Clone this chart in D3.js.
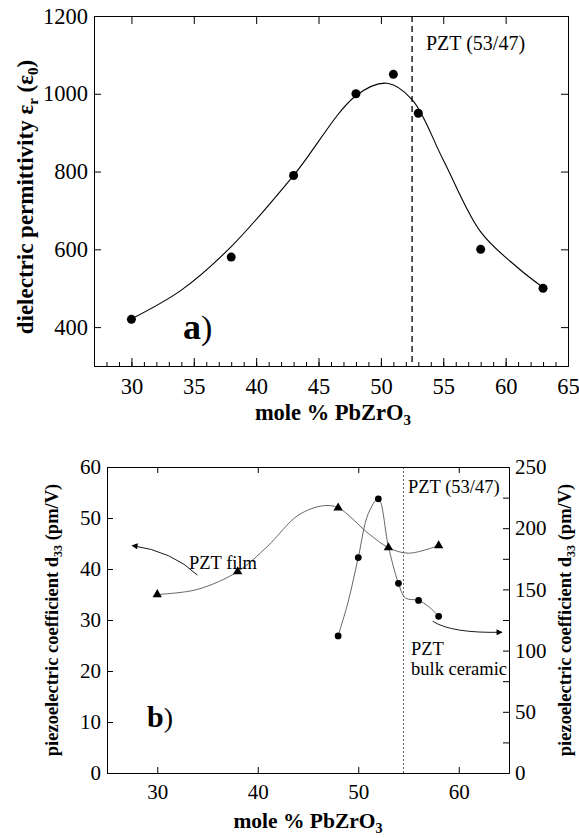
<!DOCTYPE html>
<html>
<head>
<meta charset="utf-8">
<script src="https://cdn.jsdelivr.net/npm/d3@7"></script>
<style>
  body { margin: 0; background: #fff; }
  svg text { font-family: "Liberation Serif", "Times New Roman", serif !important; fill: #000; }
</style>
</head>
<body>
<script>
// ---- panel a) dielectric permittivity ----
var permX = [30, 38, 43, 48, 51, 53, 58, 63];
var permY = [420, 580, 790, 1000, 1050, 950, 600, 500];
// fitted curve
var permFitX = [30, 34, 38, 43, 48, 50.5, 52.5, 55, 58, 61, 63];
var permFitY = [421, 495, 607, 790, 995, 1027, 985, 830, 645, 552, 502];
var permXTicks = [30, 35, 40, 45, 50, 55, 60, 65];
var permYTicks = [400, 600, 800, 1000, 1200];
var permMph = 52.5;

// ---- panel b) piezoelectric coefficient ----
var filmX = [30, 38, 48, 53, 58];
var filmY = [35, 39.5, 52, 44.2, 44.6];
var filmFitX = [30, 34, 38, 41, 44, 46.5, 48, 51, 53, 55, 58];
var filmFitY = [35, 36, 39.5, 44.5, 50.5, 52.4, 52, 47, 44.2, 43.1, 44.6];
var bulkX = [48, 50, 52, 54, 56, 58];
var bulkY = [112, 176, 224, 155, 141, 128];
var bulkFitX = [48, 49, 50, 51, 52, 53, 54, 54.7, 56, 57, 58];
var bulkFitY = [112, 140, 176, 212, 224, 185, 155, 143, 141, 136, 128];
var piezoXTicks = [30, 40, 50, 60];
var piezoLeftTicks = [0, 10, 20, 30, 40, 50, 60];
var piezoRightTicks = [0, 50, 100, 150, 200, 250];
var piezoRightMinor = [25, 75, 125, 175, 225];
var piezoMph = 54.5;
// annotation arrows: [start, control, end] in data units
var filmArrow = [[34, 38.8], [31.5, 43.5], [27.5, 44.6]];
var bulkArrow = [[57.4, 124], [59.3, 114], [64.3, 115]];

var serif = "'Liberation Serif', 'Times New Roman', serif";

var svg = d3.select("body").append("svg")
  .attr("width", 579)
  .attr("height", 838);

// panel a frame
var a = { left: 94, right: 568, top: 16, bottom: 366 };
var xa = d3.scaleLinear().domain([27, 65]).range([a.left, a.right]);
var ya = d3.scaleLinear().domain([300, 1200]).range([a.bottom, a.top]);

var ga = svg.append("g");

ga.append("g")
  .attr("transform", "translate(0," + a.bottom + ")")
  .call(d3.axisBottom(xa).tickValues(d3.range(28, 65, 1)).tickSize(-4).tickFormat(""));
ga.append("g")
  .attr("class", "lab")
  .attr("transform", "translate(0," + a.bottom + ")")
  .call(d3.axisBottom(xa).tickValues(permXTicks).tickSize(-8).tickPadding(12).tickSizeOuter(0).tickFormat(d3.format("d")));
ga.append("g")
  .attr("transform", "translate(0," + a.top + ")")
  .call(d3.axisTop(xa).tickValues(permXTicks).tickSize(-8).tickFormat("").tickSizeOuter(0));
ga.append("g")
  .attr("class", "lab")
  .attr("transform", "translate(" + a.left + ",0)")
  .call(d3.axisLeft(ya).tickValues(permYTicks).tickSize(-7).tickPadding(6).tickSizeOuter(0).tickFormat(d3.format("d")));
ga.append("g")
  .attr("transform", "translate(" + a.right + ",0)")
  .call(d3.axisRight(ya).tickValues(permYTicks).tickSize(-7).tickFormat("").tickSizeOuter(0));

ga.selectAll(".lab text").style("font-size", "22.5px").style("font-family", serif);

ga.append("line")
  .attr("x1", xa(permMph)).attr("x2", xa(permMph))
  .attr("y1", a.top).attr("y2", a.bottom)
  .attr("stroke", "#000")
  .attr("stroke-width", 1.3)
  .attr("stroke-dasharray", "6,4");

ga.append("path")
  .datum(d3.zip(permFitX, permFitY))
  .attr("d", d3.line()
    .x(d => xa(d[0]))
    .y(d => ya(d[1]))
    .curve(d3.curveCatmullRom.alpha(0.5)))
  .attr("fill", "none")
  .attr("stroke", "#000")
  .attr("stroke-width", 1.1);

ga.selectAll("circle")
  .data(d3.zip(permX, permY))
  .enter().append("circle")
  .attr("cx", d => xa(d[0]))
  .attr("cy", d => ya(d[1]))
  .attr("r", 4.5)
  .attr("fill", "#000");

ga.append("text")
  .attr("x", 426).attr("y", 50)
  .style("font-size", "20px")
  .text("PZT (53/47)");

var aLab = ga.append("text")
  .attr("x", 183).attr("y", 339);
aLab.append("tspan").style("font-size", "36px").style("font-weight", "bold").text("a");
aLab.append("tspan").style("font-size", "34px").text(")");

var xaLab = ga.append("text")
  .attr("x", (a.left + a.right) / 2 + 2).attr("y", 420)
  .attr("text-anchor", "middle")
  .style("font-size", "22.5px").style("font-weight", "bold");
xaLab.append("tspan").text("mole % PbZrO");
xaLab.append("tspan").attr("dy", 5).style("font-size", "15px").text("3");

var yaLab = ga.append("text")
  .attr("transform", "translate(33,197) rotate(-90)")
  .attr("text-anchor", "middle")
  .style("font-size", "23px").style("font-weight", "bold");
yaLab.append("tspan").text("dielectric permittivity ε");
yaLab.append("tspan").attr("dy", 5).style("font-size", "15px").text("r");
yaLab.append("tspan").attr("dy", -5).text(" (ε");
yaLab.append("tspan").attr("dy", 5).style("font-size", "15px").text("0");
yaLab.append("tspan").attr("dy", -5).text(")");

// panel b frame
var b = { left: 107, right: 509, top: 467, bottom: 773 };
var xb = d3.scaleLinear().domain([25, 65]).range([b.left, b.right]);
var yb = d3.scaleLinear().domain([0, 60]).range([b.bottom, b.top]);
var yb2 = d3.scaleLinear().domain([0, 250]).range([b.bottom, b.top]);

var gb = svg.append("g");

gb.append("g")
  .attr("class", "lab")
  .attr("transform", "translate(0," + b.bottom + ")")
  .call(d3.axisBottom(xb).tickValues(piezoXTicks).tickSize(-6).tickPadding(11).tickSizeOuter(0));
gb.append("g")
  .attr("transform", "translate(0," + b.top + ")")
  .call(d3.axisTop(xb).tickValues(piezoXTicks).tickSize(-6).tickFormat("").tickSizeOuter(0));
gb.append("g")
  .attr("class", "lab")
  .attr("transform", "translate(" + b.left + ",0)")
  .call(d3.axisLeft(yb).tickValues(piezoLeftTicks).tickSize(-6).tickPadding(6).tickSizeOuter(0));
gb.append("g")
  .attr("transform", "translate(" + b.right + ",0)")
  .call(d3.axisRight(yb2).tickValues(piezoRightMinor).tickSize(-6).tickFormat("").tickSizeOuter(0));
gb.append("g")
  .attr("class", "lab")
  .attr("transform", "translate(" + b.right + ",0)")
  .call(d3.axisRight(yb2).tickValues(piezoRightTicks).tickSize(-6).tickPadding(6).tickSizeOuter(0));

gb.selectAll(".lab text").style("font-size", "21px").style("font-family", serif);

gb.append("line")
  .attr("x1", xb(piezoMph)).attr("x2", xb(piezoMph))
  .attr("y1", b.top).attr("y2", b.bottom)
  .attr("stroke", "#333")
  .attr("stroke-width", 0.8)
  .attr("stroke-dasharray", "2,2");

var curve = d3.curveCatmullRom.alpha(0.5);

gb.append("path")
  .datum(d3.zip(filmFitX, filmFitY))
  .attr("d", d3.line().x(d => xb(d[0])).y(d => yb(d[1])).curve(curve))
  .attr("fill", "none")
  .attr("stroke", "#555")
  .attr("stroke-width", 0.9);

gb.append("path")
  .datum(d3.zip(bulkFitX, bulkFitY))
  .attr("d", d3.line().x(d => xb(d[0])).y(d => yb2(d[1])).curve(curve))
  .attr("fill", "none")
  .attr("stroke", "#555")
  .attr("stroke-width", 0.9);

gb.selectAll(".tri")
  .data(d3.zip(filmX, filmY))
  .enter().append("path")
  .attr("class", "tri")
  .attr("d", d3.symbol().type(d3.symbolTriangle).size(38))
  .attr("transform", d => "translate(" + xb(d[0]) + "," + yb(d[1]) + ")")
  .attr("fill", "#000");

gb.selectAll(".dot")
  .data(d3.zip(bulkX, bulkY))
  .enter().append("circle")
  .attr("class", "dot")
  .attr("cx", d => xb(d[0]))
  .attr("cy", d => yb2(d[1]))
  .attr("r", 3.4)
  .attr("fill", "#000");

svg.append("defs").append("marker")
  .attr("id", "head")
  .attr("viewBox", "0 0 10 10")
  .attr("refX", 9).attr("refY", 5)
  .attr("markerWidth", 9).attr("markerHeight", 6)
  .attr("markerUnits", "userSpaceOnUse")
  .attr("orient", "auto")
  .append("path")
  .attr("d", "M0,0L10,5L0,10z")
  .attr("fill", "#000");

function arrowPath(p, ys) {
  var path = d3.path();
  path.moveTo(xb(p[0][0]), ys(p[0][1]));
  path.quadraticCurveTo(xb(p[1][0]), ys(p[1][1]), xb(p[2][0]), ys(p[2][1]));
  return path.toString();
}

gb.append("path")
  .attr("d", arrowPath(filmArrow, yb))
  .attr("fill", "none").attr("stroke", "#000").attr("stroke-width", 0.9)
  .attr("marker-end", "url(#head)");
gb.append("path")
  .attr("d", arrowPath(bulkArrow, yb2))
  .attr("fill", "none").attr("stroke", "#000").attr("stroke-width", 0.9)
  .attr("marker-end", "url(#head)");

gb.append("text").attr("x", 189).attr("y", 569).style("font-size", "18.5px").text("PZT film");
gb.append("text").attr("x", 408).attr("y", 493).style("font-size", "18.5px").text("PZT (53/47)");
gb.append("text").attr("x", 411).attr("y", 655).style("font-size", "18.5px").text("PZT");
gb.append("text").attr("x", 411).attr("y", 675).style("font-size", "18.5px").text("bulk ceramic");

var bLab = gb.append("text").attr("x", 147).attr("y", 727);
bLab.append("tspan").style("font-size", "30px").style("font-weight", "bold").text("b");
bLab.append("tspan").style("font-size", "28px").text(")");

var xbLab = gb.append("text")
  .attr("x", (b.left + b.right) / 2).attr("y", 828)
  .attr("text-anchor", "middle")
  .style("font-size", "21.5px").style("font-weight", "bold");
xbLab.append("tspan").text("mole % PbZrO");
xbLab.append("tspan").attr("dy", 5).style("font-size", "14px").text("3");

function piezoLabel(x) {
  var t = gb.append("text")
    .attr("transform", "translate(" + x + "," + ((b.top + b.bottom) / 2) + ") rotate(-90)")
    .attr("text-anchor", "middle")
    .style("font-size", "18.5px").style("font-weight", "bold");
  t.append("tspan").text("piezoelectric coefficient d");
  t.append("tspan").attr("dy", 4).style("font-size", "12px").text("33");
  t.append("tspan").attr("dy", -4).text(" (pm/V)");
}
piezoLabel(58);
piezoLabel(571);
</script>
</body>
</html>
